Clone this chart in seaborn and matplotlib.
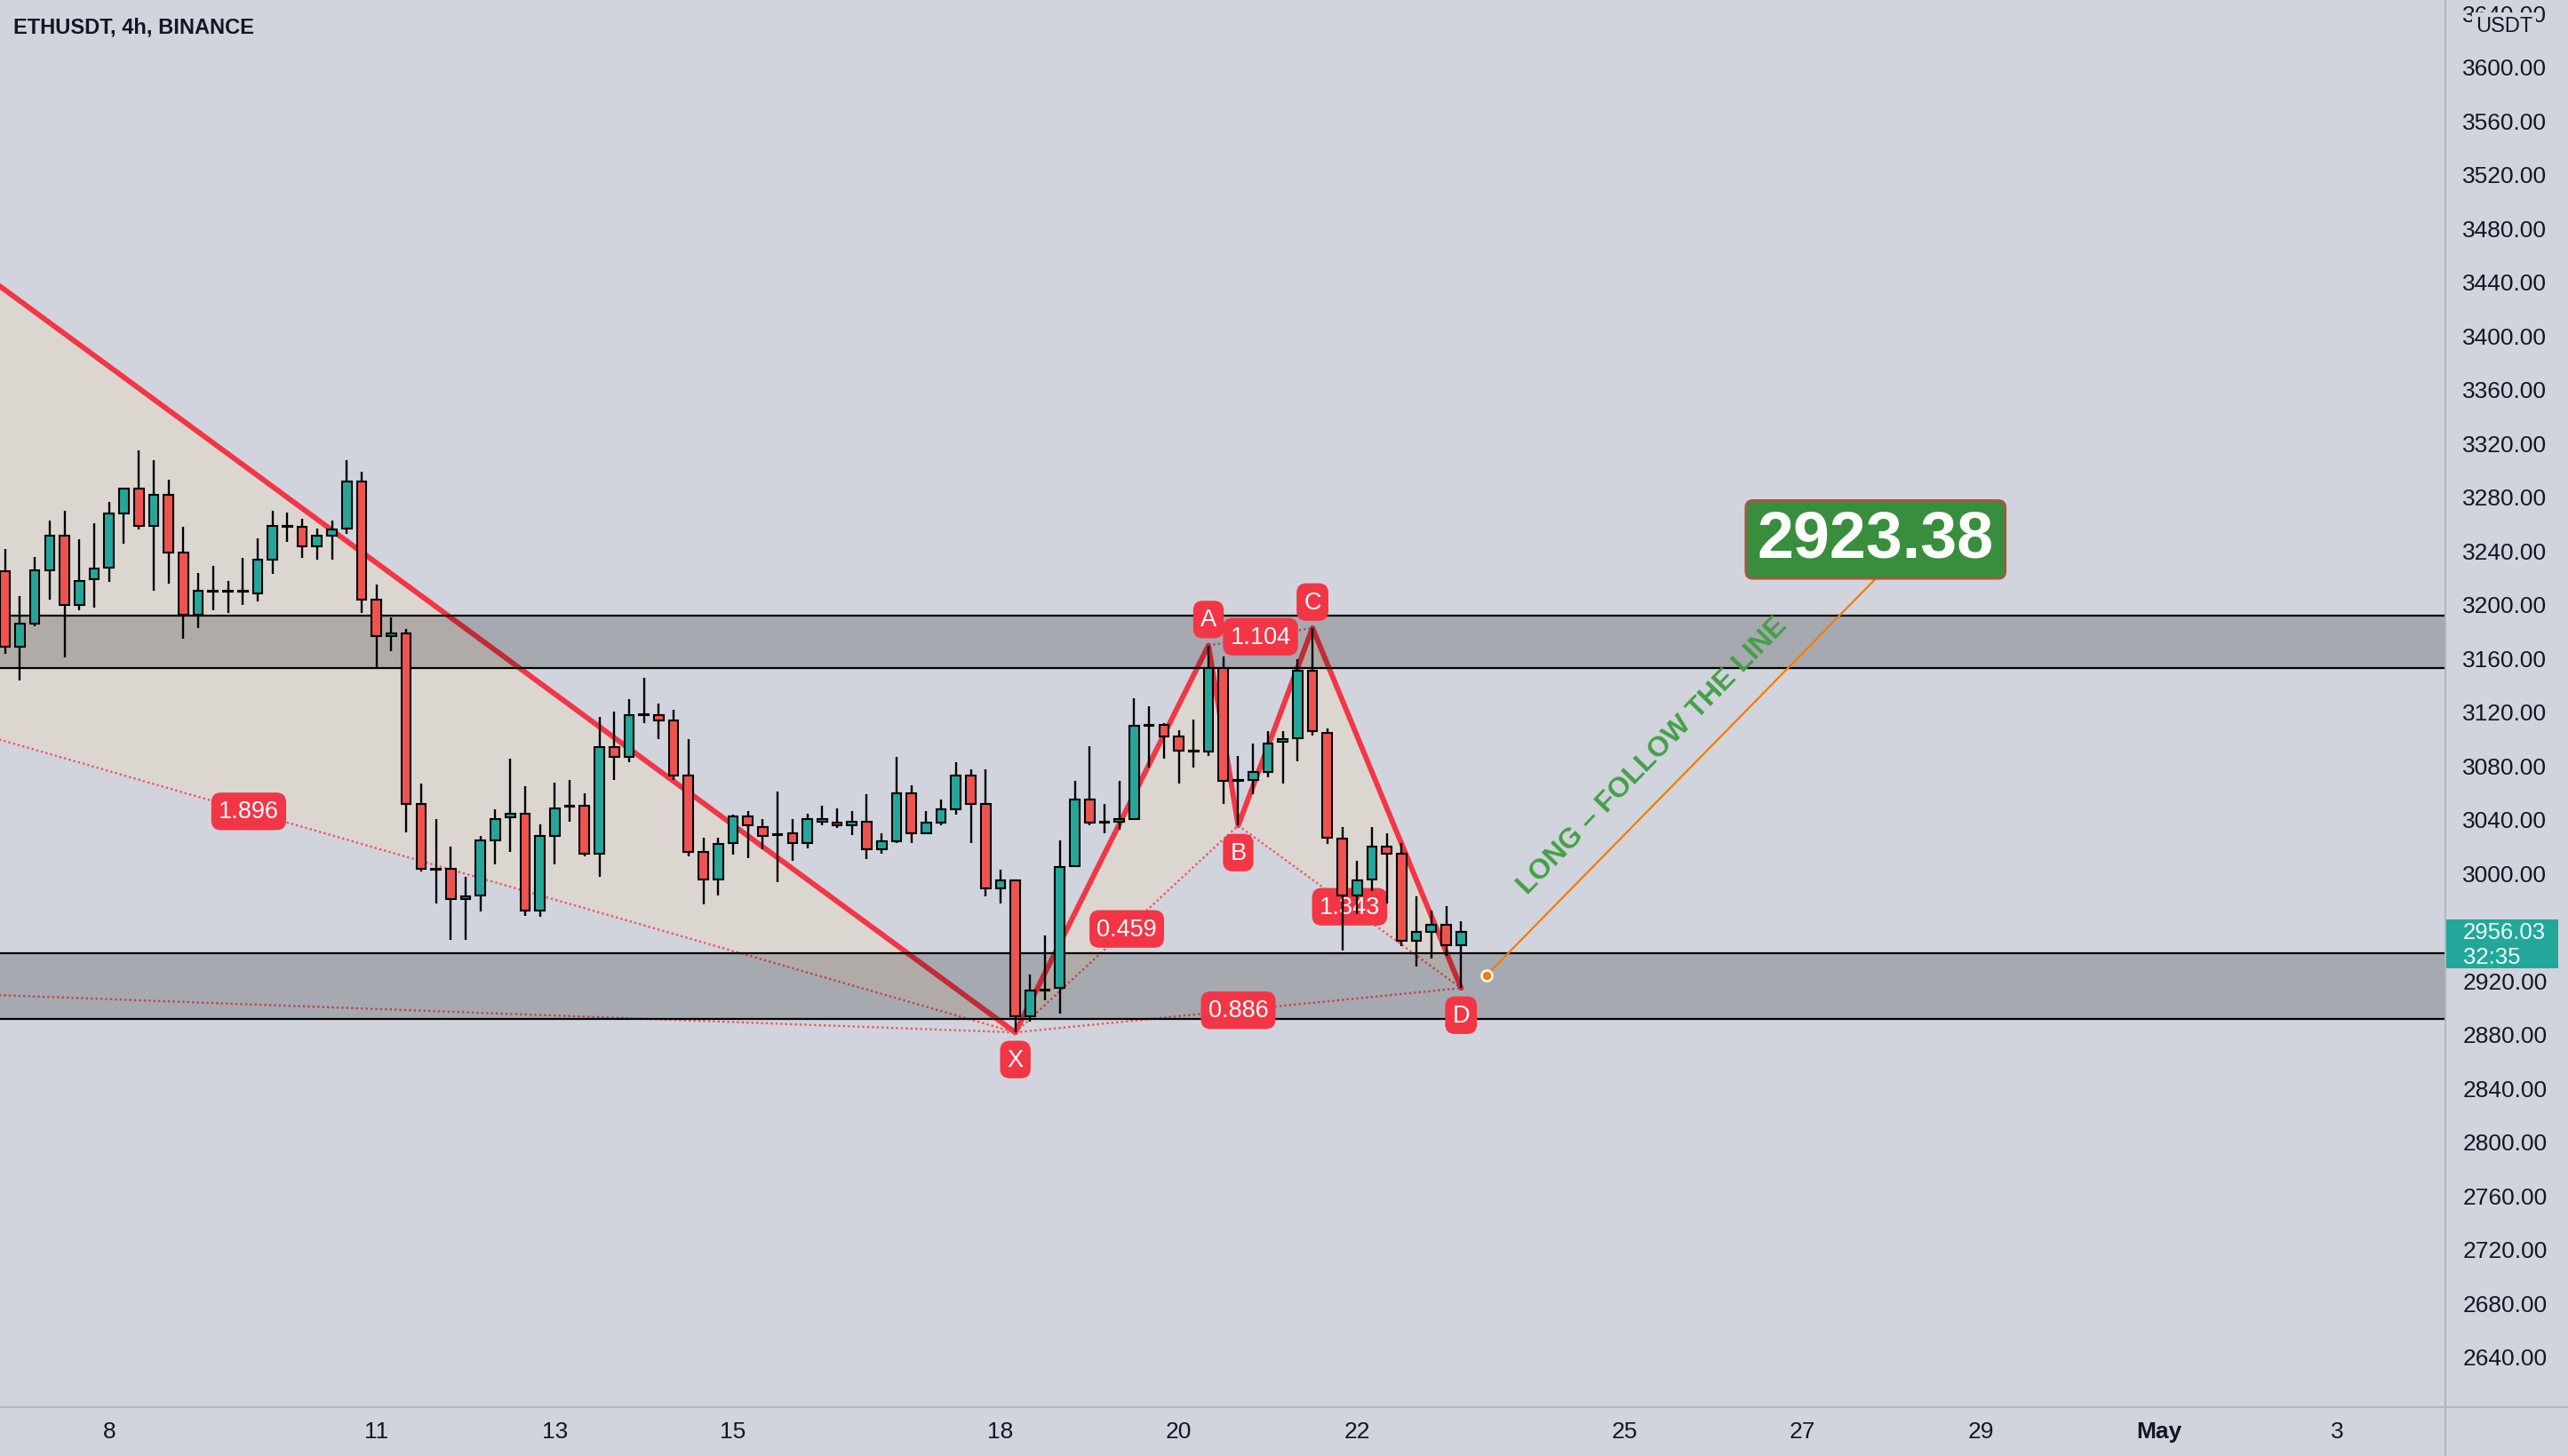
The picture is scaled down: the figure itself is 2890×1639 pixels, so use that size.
import numpy as np
import pandas as pd
import matplotlib
matplotlib.use("Agg")
import matplotlib.pyplot as plt
import matplotlib.transforms as mtransforms
from matplotlib.patches import Polygon, Rectangle, FancyBboxPatch
from matplotlib.lines import Line2D
import seaborn as sns

# ---------------- data ----------------
opens = [3224, 3168, 3185, 3225, 3251, 3199, 3218, 3227, 3267, 3286,
         3258, 3281, 3238, 3192, 3209, 3210, 3209, 3208, 3233, 3258,
         3257, 3243, 3251, 3256, 3291, 3203, 3176, 3178, 3051, 3003,
         3003, 2980, 2983, 3024, 3041, 3044, 2972, 3027, 3049, 3050,
         3014, 3093, 3086, 3117, 3117, 3113, 3072, 3015, 2995, 3022,
         3042, 3034, 3028, 3029, 3022, 3038, 3037, 3035, 3038, 3017,
         3023, 3059, 3029, 3037, 3047, 3072, 3051, 2988, 2994, 2893,
         2912, 2914, 3005, 3054, 3037, 3038, 3040, 3109, 3110, 3101,
         3090, 3090, 3152, 3068, 3069, 3075, 3097, 3100, 3150, 3104,
         3025, 2983, 2995, 3019, 3014, 2949, 2956, 2961, 2946]
highs = [3241, 3206, 3235, 3262, 3269, 3248, 3260, 3276, 3286, 3314,
         3307, 3292, 3257, 3223, 3228, 3217, 3234, 3249, 3269, 3268,
         3263, 3256, 3262, 3307, 3298, 3214, 3190, 3181, 3066, 3040,
         3019, 2997, 3027, 3047, 3085, 3064, 3036, 3067, 3069, 3059,
         3116, 3120, 3129, 3145, 3126, 3121, 3099, 3026, 3026, 3043,
         3046, 3040, 3060, 3040, 3044, 3050, 3048, 3046, 3058, 3029,
         3086, 3065, 3046, 3054, 3082, 3077, 3077, 3002, 2995, 2924,
         2953, 3024, 3068, 3094, 3051, 3068, 3130, 3124, 3111, 3106,
         3114, 3169, 3161, 3087, 3096, 3105, 3105, 3159, 3182, 3107,
         3034, 3009, 3034, 3029, 3022, 2982, 2972, 2975, 2964]
lows = [3163, 3143, 3183, 3203, 3160, 3195, 3197, 3216, 3245, 3255,
        3210, 3215, 3174, 3182, 3195, 3193, 3199, 3202, 3222, 3246,
        3234, 3233, 3233, 3252, 3193, 3152, 3165, 3030, 3001, 2977,
        2950, 2950, 2971, 3006, 3015, 2968, 2967, 3006, 3038, 3012,
        2997, 3069, 3082, 3111, 3099, 3069, 3012, 2976, 2983, 3013,
        3011, 3017, 2993, 3009, 3018, 3035, 3033, 3028, 3010, 3014,
        3022, 3022, 3029, 3035, 3043, 3022, 2982, 2977, 2881, 2889,
        2905, 2895, 3004, 3035, 3029, 3032, 3040, 3078, 3085, 3066,
        3078, 3087, 3051, 3035, 3058, 3071, 3066, 3083, 3102, 3021,
        2942, 2969, 2986, 2977, 2945, 2930, 2936, 2938, 2914]
closes = [3168, 3185, 3225, 3251, 3199, 3217, 3226, 3267, 3286, 3258,
          3281, 3238, 3192, 3210, 3210, 3209, 3210, 3233, 3258, 3257,
          3243, 3251, 3255, 3291, 3203, 3176, 3178, 3051, 3003, 3002,
          2980, 2982, 3024, 3040, 3044, 2972, 3027, 3048, 3050, 3014,
          3093, 3086, 3117, 3118, 3113, 3072, 3015, 2995, 3021, 3042,
          3035, 3027, 3028, 3022, 3040, 3040, 3035, 3038, 3017, 3023,
          3059, 3029, 3037, 3047, 3072, 3051, 2988, 2994, 2893, 2912,
          2913, 3004, 3054, 3037, 3037, 3040, 3109, 3109, 3101, 3091,
          3090, 3152, 3068, 3068, 3075, 3096, 3099, 3150, 3105, 3026,
          2983, 2994, 3019, 3014, 2949, 2956, 2961, 2946, 2956]
bar_start = "2022-04-06 20:00"

tick_dates = ["2022-04-08", "2022-04-11", "2022-04-13", "2022-04-15",
              "2022-04-18", "2022-04-20", "2022-04-22", "2022-04-25",
              "2022-04-27", "2022-04-29", "2022-05-01", "2022-05-03"]
tick_labels = ["8", "11", "13", "15", "18", "20", "22", "25", "27", "29", "May", "3"]
price_ticks = list(range(2640, 3641, 40))

upper_zone = [3152, 3191]
lower_zone = [2891, 2940]

pattern_names = ["X", "A", "B", "C", "D"]
pattern_bars = [68, 81, 83, 88, 98]
pattern_prices = [2881, 3169, 3035, 3182, 2914]
ratio_labels = ["0.459", "1.104", "1.343", "0.886"]
ratio_pairs = [("X", "B"), ("A", "C"), ("B", "D"), ("X", "D")]

prev_bars = [-90, -35.2, -12]          # earlier pattern points (off-screen)
prev_prices = [2945, 3210, 3531]
prev_ratio_label = "1.896"

target_bars = [99.7, 125.9]
target_prices = [2923.38, 3218.6]
target_text = "2923.38"
note_text = "LONG – FOLLOW THE LINE"
last_price = 2956.03
countdown = "32:35"
symbol_title = "ETHUSDT, 4h, BINANCE"
currency = "USDT"

# ---------------- style ----------------
BG = "#D1D4DC"
RED = "#F23645"
UP = "#26A69A"
DN = "#EF5350"
TXT = "#131722"
SEP = "#B2B5BE"

sns.set_theme(style="white", rc={"axes.facecolor": BG, "figure.facecolor": BG})
plt.rcParams["font.family"] = ["Liberation Sans", "DejaVu Sans"]

W, H = 2890, 1640
AX_RIGHT, AX_BOTTOM = 2752, 1585
BAR_PX, FIRST_PX = 16.72, 5.7

fig = plt.figure(figsize=(W / 100, H / 100), dpi=100)
ax = fig.add_axes([0, 1 - AX_BOTTOM / H, AX_RIGHT / W, AX_BOTTOM / H])
ax.set_facecolor(BG)
ax.set_xlim(-FIRST_PX / BAR_PX, (AX_RIGHT - FIRST_PX) / BAR_PX)
ax.set_ylim(2602.1, 3650)
for s in ax.spines.values():
    s.set_visible(False)

# ---------------- candles ----------------
df = pd.DataFrame({"time": pd.date_range(bar_start, periods=len(opens), freq="4h"),
                   "open": opens, "high": highs, "low": lows, "close": closes})
df["x"] = np.arange(len(df))
is_up = df["close"] >= df["open"]
body_lo = np.minimum(df["open"], df["close"])
body_h = np.maximum((df["close"] - df["open"]).abs(), 0.6)
ax.vlines(df["x"], df["low"], df["high"], color="black", lw=1.7, zorder=6)
ax.bar(df["x"], body_h, bottom=body_lo, width=0.64,
       color=np.where(is_up, UP, DN), edgecolor="black", linewidth=1.5, zorder=7)

# ---------------- zones ----------------
for lo, hi in (upper_zone, lower_zone):
    ax.axhspan(lo, hi, facecolor=(0, 0, 0, 0.2), edgecolor="none", zorder=4.5)
    ax.axhline(lo, color="black", lw=1.6, zorder=4.6)
    ax.axhline(hi, color="black", lw=1.6, zorder=4.6)

# ---------------- harmonic patterns ----------------
pts = dict(zip(pattern_names, zip(pattern_bars, pattern_prices)))
X0 = (prev_bars[0], prev_prices[0])
B0 = (prev_bars[1], prev_prices[1])
C0 = (prev_bars[2], prev_prices[2])
FILL = "#E8D9C8"
for tri in ([B0, C0, pts["X"]], [pts["X"], pts["A"], pts["B"]], [pts["B"], pts["C"], pts["D"]]):
    ax.add_patch(Polygon(tri, closed=True, facecolor=FILL, alpha=0.5, edgecolor="none", zorder=2))

dot_kw = dict(color=RED, lw=1.7, alpha=0.8, dashes=(1, 1.3), zorder=3)
for a, b in [(B0, pts["X"]), (X0, pts["X"])]:
    ax.plot([a[0], b[0]], [a[1], b[1]], **dot_kw)
for a, b in ratio_pairs:
    ax.plot([pts[a][0], pts[b][0]], [pts[a][1], pts[b][1]], **dot_kw)

sns.lineplot(x=[B0[0], C0[0], pts["X"][0]], y=[B0[1], C0[1], pts["X"][1]],
             sort=False, color=RED, lw=4.3, ax=ax, zorder=3.5)
sns.lineplot(x=pattern_bars, y=pattern_prices, sort=False, color=RED, lw=4.3, ax=ax, zorder=3.5)

lab_kw = dict(ha="center", va="center", color="white", fontsize=19.5,
              bbox=dict(boxstyle="round,pad=0.3,rounding_size=0.4", fc=RED, ec="none"))
ax.text((B0[0] + pts["X"][0]) / 2, (B0[1] + pts["X"][1]) / 2, prev_ratio_label, zorder=5.5, **lab_kw)
for lbl, (a, b) in zip(ratio_labels, ratio_pairs):
    ax.text((pts[a][0] + pts[b][0]) / 2, (pts[a][1] + pts[b][1]) / 2, lbl, zorder=5.5, **lab_kw)
offsets = {"X": -22, "A": 21, "B": -22, "C": 21, "D": -22}
for n in pattern_names:
    ax.annotate(n, xy=pts[n], xytext=(0, offsets[n]), textcoords="offset points",
                zorder=8, **lab_kw)

# ---------------- target projection ----------------
ax.plot(target_bars, target_prices, color="#F57C00", lw=1.6, zorder=8)
sns.scatterplot(x=[target_bars[0]], y=[target_prices[0]], s=75, color="#F57C00",
                edgecolor="white", linewidth=1.8, ax=ax, zorder=9, legend=False)
box_w, box_h = 17.5, 58.5
ax.add_patch(FancyBboxPatch((target_bars[1] - box_w / 2, target_prices[1]), box_w, box_h,
                            boxstyle="round,pad=0,rounding_size=0.5", mutation_aspect=11,
                            fc="#388E3C", ec="#C8463D", lw=1.5, zorder=9))
ax.text(target_bars[1], target_prices[1] + box_h / 2, target_text, ha="center", va="center",
        color="white", fontsize=53, fontweight="bold", zorder=10)
ax.text(110.9, 3087, note_text, rotation=45.9, rotation_mode="anchor", ha="center", va="center",
        color="#43A047", fontsize=23, fontweight="bold", zorder=9)

# ---------------- axes / ticks ----------------
t0 = pd.Timestamp(bar_start)
tick_pos = [(pd.Timestamp(d) - t0) / pd.Timedelta("4h") for d in tick_dates]
ax.set_xticks(tick_pos)
ax.set_xticklabels(tick_labels)
for t in ax.get_xticklabels():
    if t.get_text() == "May":
        t.set_fontweight("bold")
ax.tick_params(axis="x", length=0, pad=11, labelsize=19, labelcolor=TXT)
ax.yaxis.tick_right()
ax.set_yticks(price_ticks)
ax.set_yticklabels([f"{v:.2f}" for v in price_ticks])
ax.tick_params(axis="y", length=0, pad=14, labelsize=19, labelcolor=TXT)
ax.grid(False)

fig.add_artist(Line2D([AX_RIGHT / W] * 2, [0, 1], transform=fig.transFigure, color=SEP, lw=1.5))
fig.add_artist(Line2D([0, 1], [1 - AX_BOTTOM / H] * 2, transform=fig.transFigure, color=SEP, lw=1.5))

# last price tag
blend = mtransforms.blended_transform_factory(ax.transAxes, ax.transData)
ax.add_patch(Rectangle((1.0, 2928.7), 0.0462, 36.5, transform=blend, clip_on=False,
                       facecolor="#22A79A", edgecolor="none", zorder=20))
ax.text(1.0073, last_price, f"{last_price:.2f}", transform=blend, ha="left", va="center",
        fontsize=18.5, color="#F0FFFC", zorder=21, clip_on=False)
ax.text(1.0073, last_price - 18.5, countdown, transform=blend, ha="left", va="center",
        fontsize=18.5, color="#F0FFFC", zorder=21, clip_on=False)

# currency label (sits over the partly hidden top tick label, as in the source)
ax.text(1.024, 3630.4, currency, transform=blend, ha="center", va="center", fontsize=17,
        color=TXT, zorder=21, clip_on=False,
        bbox=dict(boxstyle="square,pad=0.15", fc=BG, ec="none"))

fig.text(15 / W, 1 - 31 / H, symbol_title, fontsize=17, fontweight="bold", va="center",
         ha="left", color=TXT)

fig.savefig("out.png", dpi=100, facecolor=BG)
